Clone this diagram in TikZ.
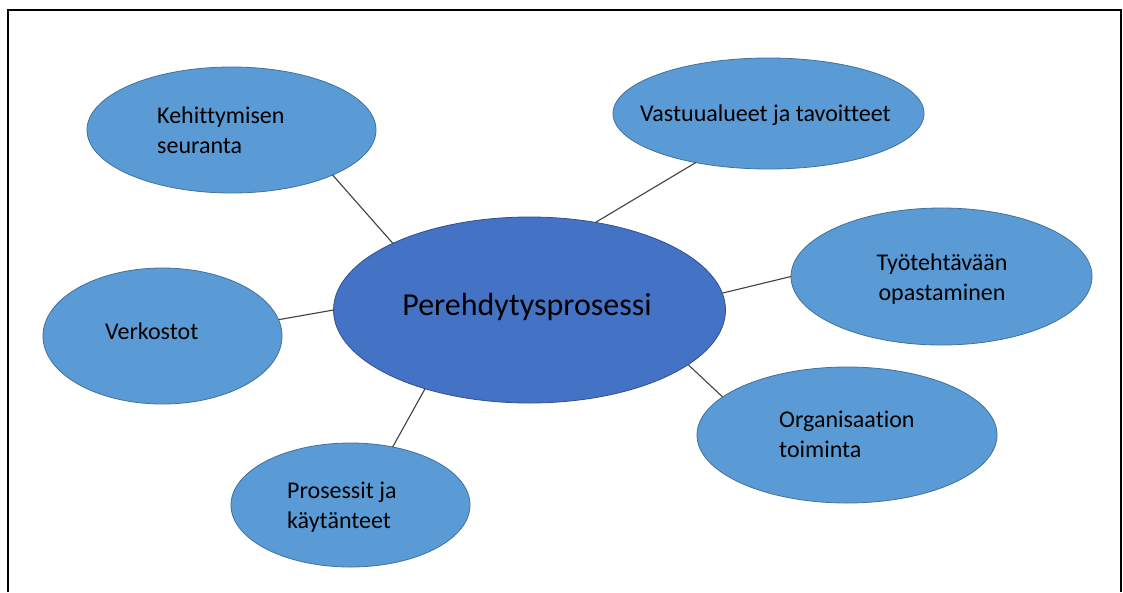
\documentclass[tikz,border=0pt]{standalone}
\usepackage{fontspec}
\setmainfont{Carlito}[Ligatures=NoCommon]
\usetikzlibrary{shapes.geometric}
\definecolor{cfill}{HTML}{4472C4}
\definecolor{cline}{HTML}{2F528F}
\definecolor{ofill}{HTML}{5B9BD5}
\definecolor{oline}{HTML}{41719C}
\definecolor{conn}{HTML}{404040}
\tikzset{
  bubble/.style={ellipse, fill=ofill, draw=oline, line width=0.8pt, inner sep=0pt, outer sep=0pt},
  hub/.style={ellipse, fill=cfill, draw=cline, line width=0.8pt, inner sep=0pt, outer sep=0pt},
  lbl/.style={anchor=base west, align=left, inner sep=0pt, font=\fontsize{24}{30}\selectfont},
  clbl/.style={anchor=base, align=center, inner sep=0pt, font=\fontsize{24}{30}\selectfont},
  link/.style={draw=conn, line width=1.1pt}
}
\begin{document}
\begin{tikzpicture}[x=1pt,y=-1pt]
\useasboundingbox (0,0) rectangle (1123,592);
\fill[white] (0,0) rectangle (1123,592);
\draw[black, line width=2pt] (8,592) -- (8,10) -- (1121,10) -- (1121,592);

\node[hub, minimum width=392pt, minimum height=186pt] (c) at (529.5,310) {};
\node[bubble, minimum width=289pt, minimum height=126pt] (k) at (231.5,130) {};
\node[bubble, minimum width=311pt, minimum height=111pt] (v) at (768.5,113.5) {};
\node[bubble, minimum width=301pt, minimum height=137pt] (t) at (941.5,276.5) {};
\node[bubble, minimum width=239pt, minimum height=136pt] (n) at (162.5,336) {};
\node[bubble, minimum width=300pt, minimum height=136pt] (o) at (847,435) {};
\node[bubble, minimum width=239pt, minimum height=124pt] (p) at (350.5,505) {};

\draw[link] (c.154) -- (k.336);
\draw[link] (c.53) -- (v.214);
\draw[link] (c.5) -- (t.180);
\draw[link] (c.180) -- (n.8);
\draw[link] (c.217) -- (p.54);
\draw[link] (c.341) -- (o.163);

\node[anchor=base, inner sep=0pt, font=\fontsize{32}{38}\selectfont] (cl) at (527,315) {Perehdytysprosessi};
\node[lbl] (kl) at (157,153.5) {Kehittymisen\\seuranta};
\node[lbl] (vl) at (640,121) {Vastuualueet ja tavoitteet};
\node[clbl] (tl) at (942,300) {Työtehtävään\\opastaminen};
\node[lbl] (nl) at (105,339) {Verkostot};
\node[lbl] (ol) at (779,457) {Organisaation\\toiminta};
\node[lbl] (pl) at (287,528) {Prosessit ja\\käytänteet};
\end{tikzpicture}
\end{document}
